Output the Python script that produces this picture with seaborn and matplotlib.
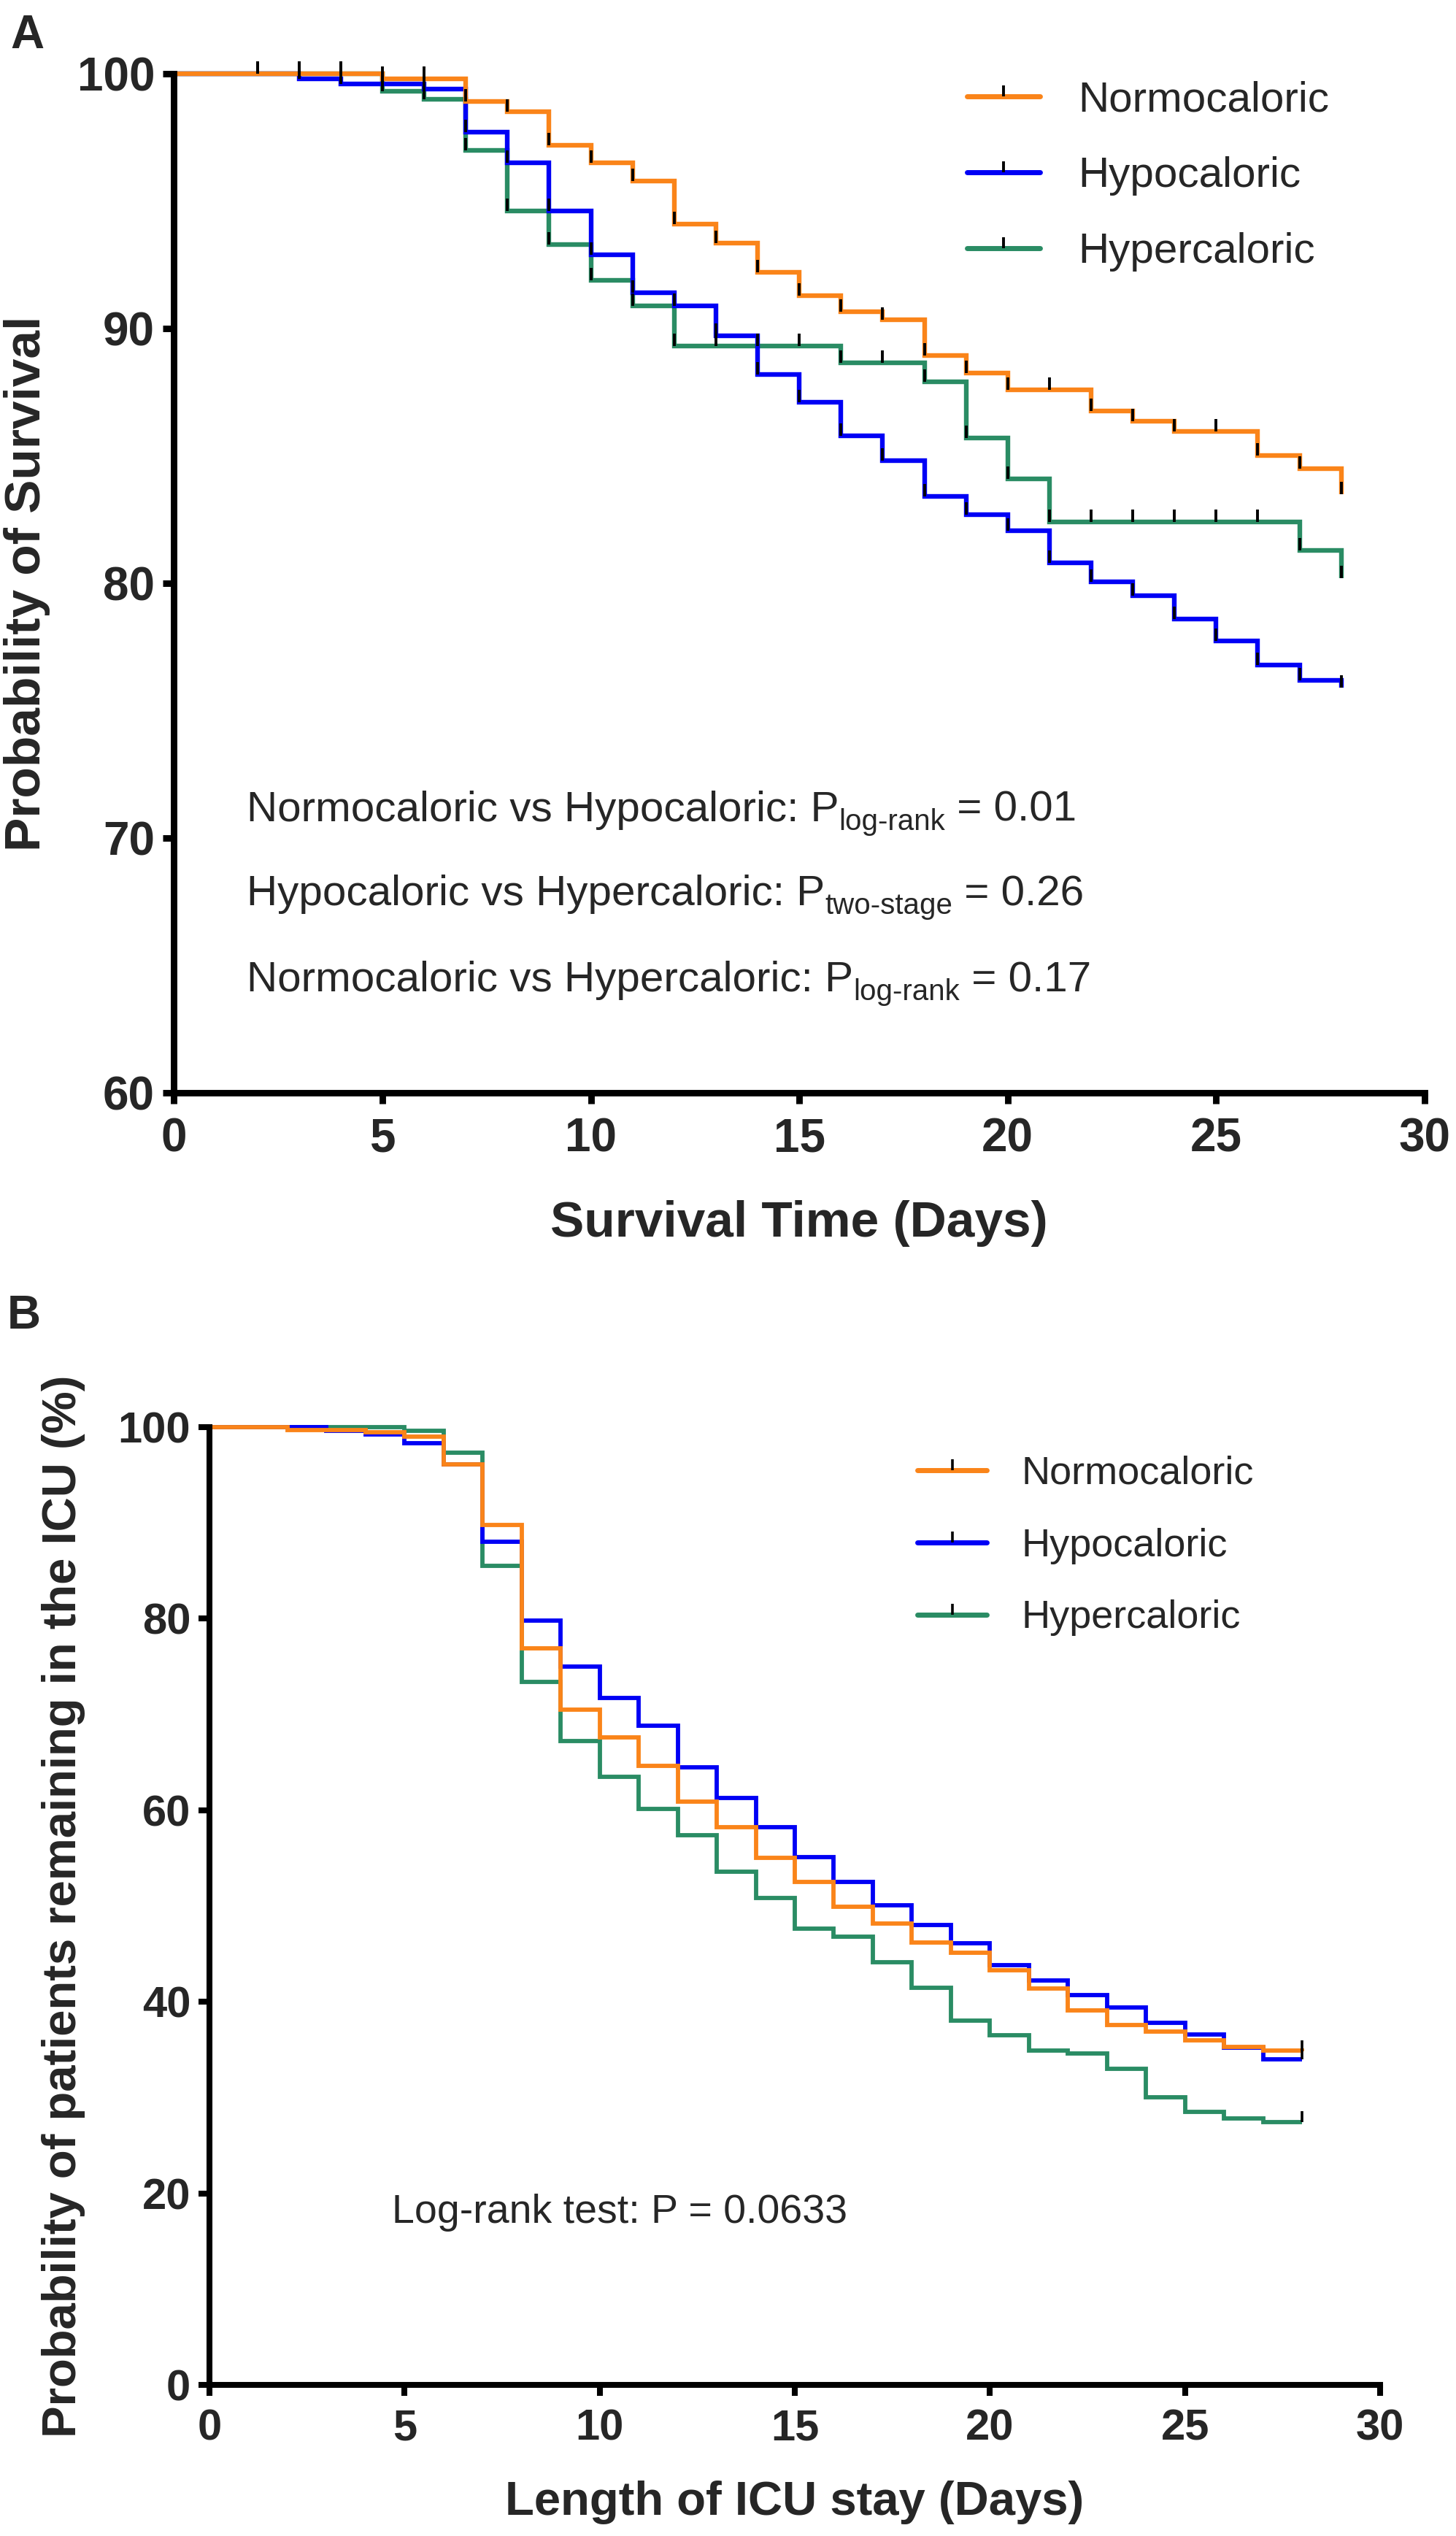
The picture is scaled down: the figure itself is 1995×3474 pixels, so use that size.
import numpy as np
import pandas as pd
import seaborn as sns
import matplotlib
matplotlib.use("Agg")
import matplotlib.pyplot as plt
from matplotlib.path import Path
from matplotlib.lines import Line2D

# survival value in effect from each day onward (days 0..28)
days = list(range(0, 29))
groups = ["Normocaloric", "Hypocaloric", "Hypercaloric"]

# panel A: probability of survival
surv_normo = [100, 100, 100, 100, 100, 99.8, 99.8, 98.9, 98.5, 97.2, 96.5, 95.8, 94.1, 93.35,
              92.2, 91.3, 90.65, 90.35, 88.95, 88.25, 87.6, 87.6, 86.75, 86.35, 85.95, 85.95,
              85.0, 84.5, 83.5]
surv_hypo = [100, 100, 100, 99.8, 99.6, 99.6, 99.4, 97.7, 96.5, 94.6, 92.9, 91.4, 90.9, 89.7,
             88.2, 87.1, 85.8, 84.8, 83.4, 82.7, 82.05, 80.8, 80.05, 79.5, 78.6, 77.75, 76.8,
             76.2, 75.9]
surv_hyper = [100, 100, 100, 100, 100, 99.3, 99.0, 97.0, 94.6, 93.3, 91.9, 90.9, 89.3, 89.3,
              89.3, 89.3, 88.65, 88.65, 87.9, 85.7, 84.1, 82.4, 82.4, 82.4, 82.4, 82.4, 82.4,
              81.3, 80.2]
censor_days_a = list(range(2, 29))

# panel B: probability of remaining in the ICU (%)
icu_normo = [100, 100, 99.7, 99.7, 99.5, 99.0, 96.1, 89.8, 76.9, 70.5, 67.6, 64.6, 60.9, 58.2,
             55.0, 52.5, 49.9, 48.2, 46.2, 45.1, 43.3, 41.4, 39.1, 37.6, 36.9, 36.0, 35.3, 34.9,
             34.8]
icu_hypo = [100, 100, 100, 99.6, 99.2, 98.3, 96.1, 88.0, 79.8, 75.0, 71.7, 68.8, 64.5, 61.3,
            58.2, 55.1, 52.5, 50.1, 48.0, 46.1, 43.8, 42.2, 40.7, 39.4, 37.8, 36.6, 35.2, 34.0,
            34.0]
icu_hyper = [100, 100, 100, 100, 100, 99.6, 97.3, 85.5, 73.4, 67.2, 63.5, 60.1, 57.4, 53.6,
             50.8, 47.6, 46.8, 44.1, 41.5, 38.0, 36.5, 34.9, 34.6, 33.0, 30.0, 28.5, 27.8, 27.4,
             27.4]
censor_days_b = [28]

colors = {"Normocaloric": "#FA8419", "Hypocaloric": "#0000F5", "Hypercaloric": "#2A8C64"}
draw_order = ["Hypercaloric", "Hypocaloric", "Normocaloric"]

sns.set_style("ticks")
plt.rcParams["font.family"] = ["Liberation Sans", "DejaVu Sans"]

# upward censor tick
tick_mark = Path([(0, 0), (0, 1)], [Path.MOVETO, Path.LINETO])


def to_long(series):
    rows = []
    for g in groups:
        for d, v in zip(days, series[g]):
            rows.append({"day": d, "value": v, "group": g})
    return pd.DataFrame(rows)


def km_panel(ax, series, censor_days, lw, ms, mew):
    df = to_long(series)
    for g in draw_order:
        sub = df[df["group"] == g]
        sns.lineplot(data=sub, x="day", y="value", color=colors[g], ax=ax, estimator=None,
                     drawstyle="steps-post", linewidth=lw, legend=False, clip_on=False,
                     solid_joinstyle="miter", solid_capstyle="butt")
    for g in draw_order:
        cv = [series[g][d] for d in censor_days]
        ax.plot(censor_days, cv, linestyle="none", marker=tick_mark, markersize=ms,
                markeredgecolor="black", markeredgewidth=mew, clip_on=False, zorder=5)


def style_axes(ax, spine_w, tick_fs, tick_len):
    sns.despine(ax=ax)
    for s in ["left", "bottom"]:
        ax.spines[s].set_linewidth(spine_w)
        ax.spines[s].set_color("black")
    ax.tick_params(axis="both", direction="out", length=tick_len, width=spine_w, color="black",
                   labelsize=tick_fs)
    ax.tick_params(axis="y", pad=8)
    ax.tick_params(axis="x", pad=13)
    for lab in ax.get_xticklabels() + ax.get_yticklabels():
        lab.set_fontweight("bold")


def p_text(ax, x, y, head, sub, tail, fs, sub_fs):
    t1 = ax.text(x, y, head, fontsize=fs, va="baseline", ha="left")
    t2 = ax.annotate(sub, xy=(1, 0), xycoords=t1, fontsize=sub_fs, va="baseline", ha="left")
    ax.annotate(tail, xy=(1, 0), xycoords=(t2, t1), fontsize=fs, va="bottom", ha="left")


fig = plt.figure(figsize=(19.95, 34.74), dpi=100)

# ---------- panel A ----------
axA = fig.add_axes([0.1195, 0.56908, 0.8589, 0.40185])
km_panel(axA, {"Normocaloric": surv_normo, "Hypocaloric": surv_hypo, "Hypercaloric": surv_hyper},
         censor_days_a, lw=4.6, ms=24, mew=2.8)
axA.set_xlim(0, 30)
axA.set_ylim(60, 100)
axA.set_xticks(range(0, 31, 5))
axA.set_yticks(range(60, 101, 10))
style_axes(axA, 6.4, 46, 11)
axA.set_xlabel("Survival Time (Days)", fontsize=50, fontweight="bold")
axA.set_ylabel("Probability of Survival", fontsize=50, fontweight="bold")
axA.xaxis.label.set(va="center", ha="center")
axA.yaxis.label.set(va="center", ha="center")
axA.xaxis.set_label_coords(0.5, -0.1282)
axA.yaxis.set_label_coords(-0.1175, 0.5)

p_text(axA, 1.74, 70.66, "Normocaloric vs Hypocaloric: P", "log-rank", " = 0.01", 42, 29)
p_text(axA, 1.74, 67.36, "Hypocaloric vs Hypercaloric: P", "two-stage", " = 0.26", 42, 29)
p_text(axA, 1.74, 63.98, "Normocaloric vs Hypercaloric: P", "log-rank", " = 0.17", 42, 29)

handlesA = [Line2D([0], [0], color=colors[g], lw=5, marker=tick_mark, markersize=22,
                   markeredgecolor="black", markeredgewidth=2.8, solid_capstyle="round")
            for g in groups]
axA.legend(handlesA, groups, loc="upper left", bbox_to_anchor=(0.634, 0.993), frameon=False,
           fontsize=42, handlelength=1.72, handletextpad=0.9, labelspacing=0.85,
           borderpad=0, borderaxespad=0)

fig.text(0.019, 1 - 49 / 3474, "A", fontsize=46, fontweight="bold", ha="center", va="center")

# ---------- panel B ----------
axB = fig.add_axes([0.14386, 0.05959, 0.80401, 0.37766])
km_panel(axB, {"Normocaloric": icu_normo, "Hypocaloric": icu_hypo, "Hypercaloric": icu_hyper},
         censor_days_b, lw=4.2, ms=22, mew=2.6)
axB.set_xlim(0, 30)
axB.set_ylim(0, 100)
axB.set_xticks(range(0, 31, 5))
axB.set_yticks(range(0, 101, 20))
style_axes(axB, 5.8, 43, 10.5)
axB.set_xlabel("Length of ICU stay (Days)", fontsize=47, fontweight="bold")
axB.set_ylabel("Probability of patients remaining in the ICU (%)", fontsize=47,
               fontweight="bold")
axB.xaxis.label.set(va="center", ha="center")
axB.yaxis.label.set(va="center", ha="center")
axB.xaxis.set_label_coords(0.5, -0.1227)
axB.yaxis.set_label_coords(-0.1247, 0.5)

axB.text(4.68, 16.9, "Log-rank test: P = 0.0633", fontsize=40, va="baseline", ha="left")

handlesB = [Line2D([0], [0], color=colors[g], lw=5, marker=tick_mark, markersize=21,
                   markeredgecolor="black", markeredgewidth=2.6, solid_capstyle="round")
            for g in groups]
axB.legend(handlesB, groups, loc="upper left", bbox_to_anchor=(0.6047, 0.9703), frameon=False,
           fontsize=39, handlelength=1.76, handletextpad=0.87, labelspacing=0.9,
           borderpad=0, borderaxespad=0)

fig.text(0.0165, 1 - 1803 / 3474, "B", fontsize=46, fontweight="bold", ha="center", va="center")

fig.savefig("out.png", dpi=100, facecolor="white")
